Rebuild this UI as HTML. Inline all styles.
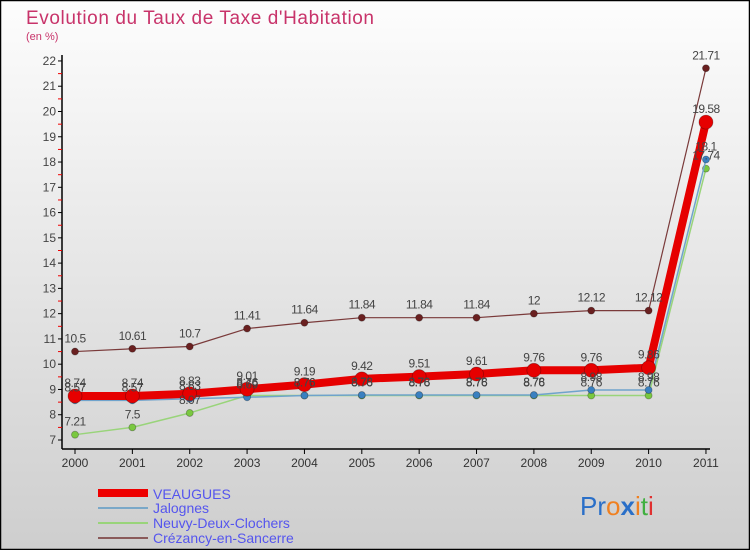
<!DOCTYPE html>
<html><head><meta charset="utf-8"><style>
html,body{margin:0;padding:0;}
body{width:750px;height:550px;overflow:hidden;font-family:"Liberation Sans",sans-serif;}
</style></head><body>
<svg id="chart" width="750" height="550" xmlns="http://www.w3.org/2000/svg">
<defs><linearGradient id="bg" x1="0" y1="0" x2="0" y2="1"><stop offset="0" stop-color="#fdfdfd"/><stop offset="1" stop-color="#cecece"/></linearGradient></defs>
<rect x="0.5" y="0.5" width="749" height="549" fill="url(#bg)" stroke="#000" stroke-width="1.5"/>
<text x="26" y="24" font-size="19" fill="#c8336a" textLength="348">Evolution du Taux de Taxe d'Habitation</text>
<text x="26" y="40" font-size="11" fill="#c8336a">(en %)</text>
<g id="axes"></g><g id="series"></g><g id="labels"></g>
<g>
<rect x="98" y="489" width="50" height="8" fill="#e00"/>
<text x="153" y="499" font-size="14" fill="#5555ee">VEAUGUES</text>
<line x1="98" y1="508" x2="148" y2="508" stroke="#7aa8c8" stroke-width="2"/>
<text x="153" y="513" font-size="14" fill="#5555ee">Jalognes</text>
<line x1="98" y1="523" x2="148" y2="523" stroke="#99d47a" stroke-width="2"/>
<text x="153" y="528" font-size="14" fill="#5555ee">Neuvy-Deux-Clochers</text>
<line x1="98" y1="538" x2="148" y2="538" stroke="#8a5a5a" stroke-width="2"/>
<text x="153" y="543" font-size="14" fill="#5555ee">Crézancy-en-Sancerre</text>
</g>
<text x="580" y="515" font-size="26" font-family="Liberation Sans,sans-serif"><tspan fill="#2a6fc8">Pr</tspan><tspan fill="#f08020">o</tspan><tspan fill="#2a6fc8" font-weight="bold">x</tspan><tspan fill="#f08020">i</tspan><tspan fill="#40b040">t</tspan><tspan fill="#e03030">i</tspan></text>
</svg>
<script>
const years=["2000","2001","2002","2003","2004","2005","2006","2007","2008","2009","2010","2011"];
const veaugues=[8.74,8.74,8.83,9.01,9.19,9.42,9.51,9.61,9.76,9.76,9.86,19.58];
const jalognes=[8.57,8.57,8.63,8.69,8.76,8.78,8.78,8.78,8.78,8.98,8.98,18.1];
const neuvy=[7.21,7.5,8.07,8.76,8.76,8.76,8.76,8.76,8.76,8.76,8.76,17.74];
const crezancy=[10.5,10.61,10.7,11.41,11.64,11.84,11.84,11.84,12,12.12,12.12,21.71];
const yTicks=[7,8,9,10,11,12,13,14,15,16,17,18,19,20,21,22];
const NS="http://www.w3.org/2000/svg";
function xS(i){return 75+i*57.36;}
function yS(v){return 440-(v-7)*25.27;}
function mk(tag,attrs,parent){const e=document.createElementNS(NS,tag);for(const k in attrs)e.setAttribute(k,attrs[k]);parent.appendChild(e);return e;}
const axes=document.getElementById('axes');
let l=mk('line',{x1:62,y1:55,x2:62,y2:449,stroke:'#000','stroke-width':1.5},axes);


l=mk('line',{x1:62,y1:449,x2:710,y2:449,stroke:'#000','stroke-width':1.5},axes);


yTicks.forEach(v=>{
 const y=yS(v);
 mk('line',{x1:58,y1:y,x2:62,y2:y,stroke:'#000'},axes);
 if(v<22)mk('line',{x1:58,y1:y-12.6,x2:62,y2:y-12.6,stroke:'#e00'},axes);
 const t=mk('text',{x:56,y:y+4,'font-size':12,fill:'#444','text-anchor':'end'},axes);
 t.textContent=v;
 
 
});
years.forEach((yr,i)=>{
 const x=xS(i);
 mk('line',{x1:x,y1:449,x2:x,y2:454,stroke:'#000'},axes);
 const t=mk('text',{x:x,y:467,'font-size':12,fill:'#333','text-anchor':'middle'},axes);
 t.textContent=yr;
 
 
});
const sg=document.getElementById('series'),lg=document.getElementById('labels');
function draw(vals,name,color,w,r,fill){
 const g=mk('g',{},sg);
 
 
 mk('polyline',{points:vals.map((v,i)=>xS(i)+','+yS(v)).join(' '),fill:'none',stroke:color,'stroke-width':w,'stroke-linejoin':'round'},g);
 vals.forEach((v,i)=>{
  const c=mk('circle',{cx:xS(i),cy:yS(v),r:r,fill:fill,stroke:'rgba(0,0,0,0.3)','stroke-width':0.8},g);
  
  
  const t=mk('text',{x:xS(i),y:yS(v)-9,'font-size':12,fill:'#444','text-anchor':'middle','letter-spacing':'-0.5'},lg);
  t.textContent=v;
  
  
 });
}
draw(crezancy,'crezancy','#7a3a3a',1.2,3.5,'#6a2020');
draw(neuvy,'neuvy','#99d47a',1.5,3.5,'#7ac840');
draw(jalognes,'jalognes','#6fa3cc',1.5,3.5,'#3a80c0');
draw(veaugues,'veaugues','#e60000',8,7,'#e60000');
</script>
</body></html>
